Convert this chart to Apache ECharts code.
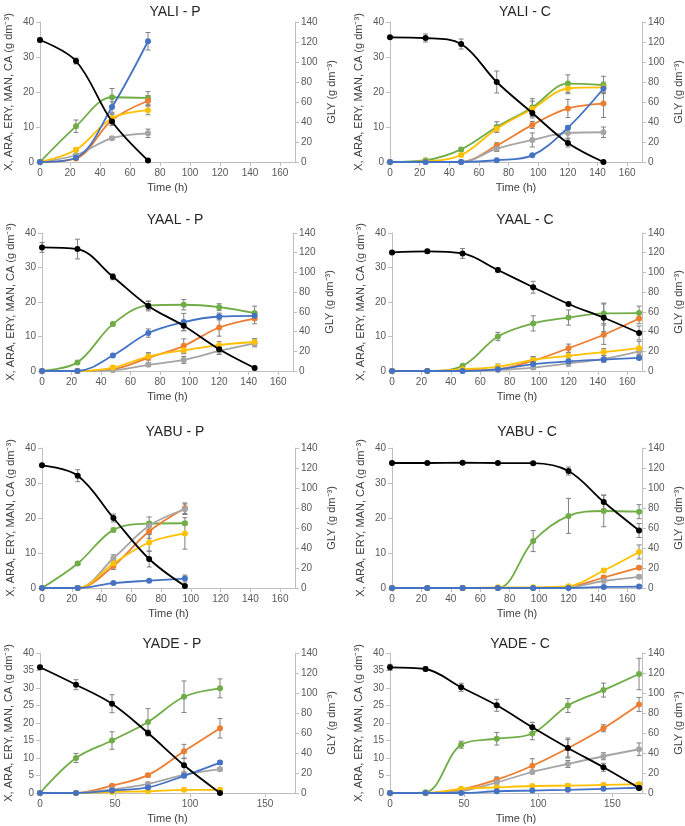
<!DOCTYPE html>
<html><head><meta charset="utf-8">
<script src="https://cdn.jsdelivr.net/npm/echarts@6/dist/echarts.min.js"></script>
<style>html,body{margin:0;padding:0;background:#fff}#c{width:685px;height:826px}</style>
</head><body><div id="c"></div>
<script>
// ---------- DATA ----------
const titles = ['YALI - P','YALI - C','YAAL - P','YAAL - C','YABU - P','YABU - C','YADE - P','YADE - C'];
const xTickStep = [20,20,20,20,20,20,50,50];
const leftTickStep = [10,10,10,10,10,10,5,5];
const leftName = 'X, ARA, ERY, MAN, CA (g dm\u207B\u00B3)';
const rightName = 'GLY (g dm\u207B\u00B3)';
const xName = 'Time (h)';

// YALI - P
const yaliP_t   = [0,24,48,72];
const yaliP_X   = [0,10.2,18.5,18.3];
const yaliP_ARA = [0,1.0,12.0,17.5];
const yaliP_ERY = [0,2.0,6.8,8.2];
const yaliP_MAN = [0,3.5,12.5,14.8];
const yaliP_CA  = [0,1.2,15.7,34.5];
const yaliP_GLY = [122,101,40.5,1.5];
const yaliP_Xe=[0,1.8,2.5,1.8], yaliP_ARAe=[0,0.3,1.5,1.5], yaliP_ERYe=[0,0.3,0.5,1.2], yaliP_MANe=[0,0.5,1.3,1.3], yaliP_CAe=[0,0.5,1.5,2.5], yaliP_GLYe=[2,3,4,1];

// YALI - C
const yaliC_t   = [0,24,48,72,96,120,144];
const yaliC_X   = [0,0.5,3.6,10,15.6,22.4,22];
const yaliC_ARA = [0,0,0,4.7,10.6,15.3,16.7];
const yaliC_ERY = [0,0,0,3.8,6.3,8.3,8.5];
const yaliC_MAN = [0,0.2,2.0,9.5,15.2,21,21.3];
const yaliC_CA  = [0,0,0,0.5,1.9,9.8,21];
const yaliC_GLY = [124.7,124,118,80,49,19,0];
const yaliC_Xe=[0,0.3,0.5,1.5,2.5,2.5,2.5], yaliC_ARAe=[0,0,0,0.8,1,2.6,4], yaliC_ERYe=[0,0,0,0.8,2,1.5,1.5], yaliC_MANe=[0,0,0.3,1,2.2,1.5,1.5], yaliC_CAe=[0,0,0,0.2,0.3,0.5,1], yaliC_GLYe=[1,4,5,11,5,4,0];

// YAAL - P
const yaalP_t   = [0,24,48,72,96,120,144];
const yaalP_X   = [0,2.5,13.6,19,19.2,18.5,16.8];
const yaalP_ARA = [0,0,0.5,3.8,7.3,12.6,15.2];
const yaalP_ERY = [0,0,0.2,1.8,3.2,5.8,8];
const yaalP_MAN = [0,0,1,4.2,6,7.5,8.4];
const yaalP_CA  = [0,0,4.5,11,14.2,15.8,16];
const yaalP_GLY = [125.4,123.7,95.6,66,45.8,22,3];
const yaalP_Xe=[0,0.3,0.5,1.2,1.5,1,2], yaalP_ARAe=[0,0,0.3,1.5,2,2.5,1.5], yaalP_ERYe=[0,0,0.3,0.5,1,1,1], yaalP_MANe=[0,0,0.5,1,1,1,1], yaalP_CAe=[0,0,0.4,1.2,2.5,1,1], yaalP_GLYe=[5,10,3,5,5,3,1];

// YAAL - C
const yaalC_t   = [0,24,48,72,96,120,144,168];
const yaalC_X   = [0,0,1.5,10,13.8,15.5,16.7,16.8];
const yaalC_ARA = [0,0,0.2,0.5,3,6.6,10.5,15.2];
const yaalC_ERY = [0,0,0,0.3,1,2.2,3.5,5.7];
const yaalC_MAN = [0,0,0.5,1.2,3.2,4.4,5.5,6.6];
const yaalC_CA  = [0,0,0,0.5,2,2.8,3.3,3.8];
const yaalC_GLY = [120.3,121.4,119.3,102.4,85,68,54,38.6];
const yaalC_Xe=[0,0,0.3,1.2,2.2,2.2,3,2], yaalC_ARAe=[0,0,0.2,0.5,1,1.2,2.8,1.5], yaalC_ERYe=[0,0,0,0.3,0.5,0.8,1,1], yaalC_MANe=[0,0,0.3,0.8,1,1,1,2], yaalC_CAe=[0,0,0,0.3,0.5,0.5,0.5,0.5], yaalC_GLYe=[1,2,5,2,6,1,14,7];

// YABU - P
const yabuP_t   = [0,24,48,72,96];
const yabuP_X   = [0,7,16.6,18.4,18.5];
const yabuP_ARA = [0,0,6.3,16.2,22.8];
const yabuP_ERY = [0,0,8.5,17.8,22.5];
const yabuP_MAN = [0,0,7,13,15.6];
const yabuP_CA  = [0,0,1.4,2.1,2.7];
const yabuP_GLY = [122.7,112.3,70,29,2];
const yabuP_Xe=[0,0.5,0.5,0.5,0.5], yabuP_ARAe=[0,0.5,1,2,1.5], yabuP_ERYe=[0,0.5,1,2.5,1.5], yabuP_MANe=[0,0.5,1,2.5,4.5], yabuP_CAe=[0,0.5,0.3,0.3,1], yabuP_GLYe=[1,6,4,8,1];

// YABU - C
const yabuC_t   = [0,24,48,72,96,120,144,168];
const yabuC_X   = [0,0,0,0,13.4,20.6,22,21.8];
const yabuC_ARA = [0,0,0,0,0,0.3,3,5.8];
const yabuC_ERY = [0,0,0,0,0,0.2,2,3.2];
const yabuC_MAN = [0,0,0,0.2,0.2,0.5,5,10.3];
const yabuC_CA  = [0,0,0,0,0,0,0.3,0.4];
const yabuC_GLY = [125,125,125.3,125,124.8,117,86,57.5];
const yabuC_Xe=[0,0,0,0,3,5,4.5,2], yabuC_ARAe=[0,0,0,0,0,0.2,0.5,0.5], yabuC_ERYe=[0,0,0,0,0,0.2,0.3,0.5], yabuC_MANe=[0,0,0,0,0,0.3,0.5,2], yabuC_CAe=[0,0,0,0,0,0,0.2,0.2], yabuC_GLYe=[1,1,1,1,1,4,7,7];

// YADE - P
const yadeP_t   = [0,24,48,72,96,120];
const yadeP_X   = [0,10,15,20.3,27.5,29.9];
const yadeP_ARA = [0,0,2.1,5.1,11.9,18.5];
const yadeP_ERY = [0,0,1,2.6,5.2,6.8];
const yadeP_MAN = [0,0,0.3,0.5,0.9,0.9];
const yadeP_CA  = [0,0,0.7,1.6,4.9,8.7];
const yadeP_GLY = [125.7,108.3,89.3,60,27.7,0];
const yadeP_Xe=[0,1.3,2.5,3.8,4.5,2.7], yadeP_ARAe=[0,0,0.3,0.5,2,2.8], yadeP_ERYe=[0,0,0.3,0.5,0.8,0.5], yadeP_MANe=[0,0,0.1,0.2,0.2,0.2], yadeP_CAe=[0,0,0.3,0.3,0.5,0.5], yadeP_GLYe=[2,5,9,3,7,1];

// YADE - C
const yadeC_t   = [0,24,48,72,96,120,144,168];
const yadeC_X   = [0,0.2,13.8,15.5,17,25,29.4,34];
const yadeC_ARA = [0,0,1,3.8,7.8,12.8,18.5,25.3];
const yadeC_ERY = [0,0,0.5,3,6,8.3,10.5,12.5];
const yadeC_MAN = [0,0,1.2,1.6,2,2.1,2.3,2.5];
const yadeC_CA  = [0,0,0,0.5,0.7,0.9,1.2,1.5];
const yadeC_GLY = [125.7,124,105.7,87.7,65.7,45,25.7,5];
const yadeC_Xe=[0,0.3,1,1.8,1.8,2,2,4.5], yadeC_ARAe=[0,0,0.3,0.8,2,2.5,1,2], yadeC_ERYe=[0,0,0.3,0.8,0.5,1,1,1.8], yadeC_MANe=[0,0,0.3,0.3,0.3,0.5,0.5,0.5], yadeC_CAe=[0,0,0,0.2,0.2,0.2,0.2,0.2], yadeC_GLYe=[3,2,4,6,5,10,4,2];

// ---------- BUILD ----------
const panels = [
 {t:yaliP_t, X:yaliP_X, ARA:yaliP_ARA, ERY:yaliP_ERY, MAN:yaliP_MAN, CA:yaliP_CA, GLY:yaliP_GLY, e:{X:yaliP_Xe,ARA:yaliP_ARAe,ERY:yaliP_ERYe,MAN:yaliP_MANe,CA:yaliP_CAe,GLY:yaliP_GLYe}},
 {t:yaliC_t, X:yaliC_X, ARA:yaliC_ARA, ERY:yaliC_ERY, MAN:yaliC_MAN, CA:yaliC_CA, GLY:yaliC_GLY, e:{X:yaliC_Xe,ARA:yaliC_ARAe,ERY:yaliC_ERYe,MAN:yaliC_MANe,CA:yaliC_CAe,GLY:yaliC_GLYe}},
 {t:yaalP_t, X:yaalP_X, ARA:yaalP_ARA, ERY:yaalP_ERY, MAN:yaalP_MAN, CA:yaalP_CA, GLY:yaalP_GLY, e:{X:yaalP_Xe,ARA:yaalP_ARAe,ERY:yaalP_ERYe,MAN:yaalP_MANe,CA:yaalP_CAe,GLY:yaalP_GLYe}},
 {t:yaalC_t, X:yaalC_X, ARA:yaalC_ARA, ERY:yaalC_ERY, MAN:yaalC_MAN, CA:yaalC_CA, GLY:yaalC_GLY, e:{X:yaalC_Xe,ARA:yaalC_ARAe,ERY:yaalC_ERYe,MAN:yaalC_MANe,CA:yaalC_CAe,GLY:yaalC_GLYe}},
 {t:yabuP_t, X:yabuP_X, ARA:yabuP_ARA, ERY:yabuP_ERY, MAN:yabuP_MAN, CA:yabuP_CA, GLY:yabuP_GLY, e:{X:yabuP_Xe,ARA:yabuP_ARAe,ERY:yabuP_ERYe,MAN:yabuP_MANe,CA:yabuP_CAe,GLY:yabuP_GLYe}},
 {t:yabuC_t, X:yabuC_X, ARA:yabuC_ARA, ERY:yabuC_ERY, MAN:yabuC_MAN, CA:yabuC_CA, GLY:yabuC_GLY, e:{X:yabuC_Xe,ARA:yabuC_ARAe,ERY:yabuC_ERYe,MAN:yabuC_MANe,CA:yabuC_CAe,GLY:yabuC_GLYe}},
 {t:yadeP_t, X:yadeP_X, ARA:yadeP_ARA, ERY:yadeP_ERY, MAN:yadeP_MAN, CA:yadeP_CA, GLY:yadeP_GLY, e:{X:yadeP_Xe,ARA:yadeP_ARAe,ERY:yadeP_ERYe,MAN:yadeP_MANe,CA:yadeP_CAe,GLY:yadeP_GLYe}},
 {t:yadeC_t, X:yadeC_X, ARA:yadeC_ARA, ERY:yadeC_ERY, MAN:yadeC_MAN, CA:yadeC_CA, GLY:yadeC_GLY, e:{X:yadeC_Xe,ARA:yadeC_ARAe,ERY:yadeC_ERYe,MAN:yadeC_MANe,CA:yadeC_CAe,GLY:yadeC_GLYe}}
];

const keys = ['X','ARA','ERY','MAN','CA','GLY'];
const colors = {X:'#70AD47', ARA:'#ED7D31', ERY:'#A5A5A5', MAN:'#FFC000', CA:'#4472C4', GLY:'#000000'};

const gridPos = [
 {left:40, top:22, width:255, height:140},
 {left:390, top:22, width:258, height:140},
 {left:42, top:233, width:251, height:138},
 {left:392, top:233, width:252, height:138},
 {left:42, top:448, width:253, height:140},
 {left:392, top:448, width:256, height:140},
 {left:40, top:653, width:255, height:140},
 {left:390, top:653, width:257, height:140}
];
const titlePos = [[170,0],[520,0],[170,208],[520,208],[170,420],[522,420],[167,632],[515,632]];

const FONT = 'Liberation Sans, Arial, sans-serif';
const axisColor = '#BFBFBF';
const labelColor = '#595959';

const grid=[], xAxis=[], yAxis=[], series=[], title=[];

function errRender(params, api){
  const x=api.value(0), lo=api.value(1), hi=api.value(2);
  if(!(hi>lo)) return null;
  const a=api.coord([x,hi]), b=api.coord([x,lo]);
  const w=2.5, st={stroke:'#808080', lineWidth:1};
  return {type:'group', children:[
    {type:'line', shape:{x1:a[0],y1:a[1],x2:b[0],y2:b[1]}, style:st},
    {type:'line', shape:{x1:a[0]-w,y1:a[1],x2:a[0]+w,y2:a[1]}, style:st},
    {type:'line', shape:{x1:b[0]-w,y1:b[1],x2:b[0]+w,y2:b[1]}, style:st}
  ]};
}

panels.forEach((p,i)=>{
  grid.push(Object.assign({containLabel:false}, gridPos[i]));
  title.push({text:titles[i], left:titlePos[i][0], top:titlePos[i][1], textAlign:'center',
    textStyle:{fontFamily:FONT, fontSize:14, fontWeight:'normal', color:'#262626'}});
  xAxis.push({type:'value', gridIndex:i, min:0, max:170, interval:xTickStep[i],
    name:xName, nameLocation:'middle', nameGap:20,
    nameTextStyle:{fontFamily:FONT, fontSize:11, color:'#404040'},
    axisLine:{show:true, onZero:false, lineStyle:{color:axisColor}},
    axisTick:{show:true, length:4, lineStyle:{color:axisColor}},
    axisLabel:{fontFamily:FONT, fontSize:10, color:labelColor, margin:6, showMaxLabel:false},
    splitLine:{show:false}});
  yAxis.push({type:'value', gridIndex:i, position:'left', min:0, max:40, interval:leftTickStep[i],
    name:leftName, nameLocation:'middle', nameGap:26, nameRotate:90,
    nameTextStyle:{fontFamily:FONT, fontSize:11, color:'#404040'},
    axisLine:{show:true, onZero:false, lineStyle:{color:axisColor}},
    axisTick:{show:true, length:4, lineStyle:{color:axisColor}},
    axisLabel:{fontFamily:FONT, fontSize:10, color:labelColor, margin:6},
    splitLine:{show:false}});
  yAxis.push({type:'value', gridIndex:i, position:'right', min:0, max:140, interval:20,
    name:rightName, nameLocation:'middle', nameGap:31, nameRotate:90,
    nameTextStyle:{fontFamily:FONT, fontSize:11, color:'#404040'},
    axisLine:{show:true, onZero:false, lineStyle:{color:axisColor}},
    axisTick:{show:true, length:4, lineStyle:{color:axisColor}},
    axisLabel:{fontFamily:FONT, fontSize:10, color:labelColor, margin:6},
    splitLine:{show:false}});
  keys.forEach((k,ki)=>{
    const yi = k==='GLY' ? 2*i+1 : 2*i;
    series.push({type:'custom', xAxisIndex:i, yAxisIndex:yi, renderItem:errRender,
      encode:{x:0, y:[1,2]}, z:1, silent:true,
      data:p.t.map((x,j)=>[x, Math.max(0,p[k][j]-p.e[k][j]), p[k][j]+p.e[k][j]])});
    series.push({type:'line', name:k, xAxisIndex:i, yAxisIndex:yi, smooth:0.35,
      symbol:'circle', symbolSize:6, z:2+ki,
      itemStyle:{color:colors[k]}, lineStyle:{color:colors[k], width:1.8},
      data:p.t.map((x,j)=>[x,p[k][j]])});
  });
});

const chart = echarts.init(document.getElementById('c'), null, {renderer:'canvas'});
chart.setOption({animation:false, backgroundColor:'#fff', title, grid, xAxis, yAxis, series});
</script></body></html>
